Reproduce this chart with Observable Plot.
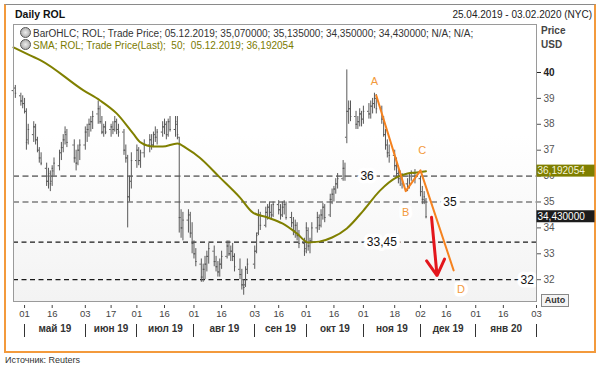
<!DOCTYPE html>
<html><head><meta charset="utf-8">
<script src="https://cdn.jsdelivr.net/npm/d3@7"></script>
<script src="https://cdn.jsdelivr.net/npm/@observablehq/plot@0.6"></script>
<style>
body{margin:0;background:#fff;font-family:"Liberation Sans",Arial,sans-serif;}
#wrap{position:relative;width:600px;height:370px;overflow:hidden;}
.abs{position:absolute;white-space:pre;}
#frame{left:4px;top:4px;width:592px;height:349px;box-sizing:border-box;border:2px solid #f39a3c;border-top:1px solid #8a8a8a;}
#plotbg{left:13px;top:24px;width:523px;height:277px;background:linear-gradient(#ffffff 0%,#ffffff 40%,#f3f3f3 100%);}
#chart{left:0;top:0;}
.leg{font-size:10px;line-height:12px;}
.ico{display:inline-block;width:9px;height:9px;border-radius:50%;border:1px solid #555;background:radial-gradient(#eee,#999);vertical-align:-1px;margin-right:2px;}
</style></head>
<body><div id="wrap">
<div class="abs" id="frame"></div>
<div class="abs" id="plotbg"></div>
<div class="abs" style="left:15px;top:8px;font-size:10.5px;font-weight:bold;color:#111;">Daily ROL</div>
<div class="abs" style="right:8px;top:9px;font-size:10px;color:#222;">25.04.2019 - 03.02.2020 (NYC)</div>
<div class="abs" id="chart"></div>
<div class="abs leg" style="left:20px;top:27px;color:#333;"><span class="ico"></span>BarOHLC; ROL; Trade Price; 05.12.2019; 35,070000; 35,135000; 34,350000; 34,430000; N/A; N/A;</div>
<div class="abs leg" style="left:20px;top:39px;color:#7a7a00;"><span class="ico"></span>SMA; ROL; Trade Price(Last);  50;  05.12.2019; 36,192054</div>
<div class="abs" style="left:541px;top:25px;font-size:10px;font-weight:bold;color:#444;">Price</div>
<div class="abs" style="left:541px;top:39px;font-size:10px;font-weight:bold;color:#444;">USD</div>
<div class="abs" style="left:541px;top:294px;width:26px;height:11px;border:1px solid #888;background:#f4f4f4;font-size:9px;line-height:11px;font-weight:bold;color:#333;text-align:center;">Auto</div>
<div class="abs" style="left:5px;top:355px;font-size:9px;color:#333;">Источник: Reuters</div>
</div>
<script>
// ---- data ----
const dates = ["2019-04-25","2019-04-26","2019-04-29","2019-04-30","2019-05-01","2019-05-02","2019-05-03","2019-05-06","2019-05-07","2019-05-08","2019-05-09","2019-05-10","2019-05-13","2019-05-14","2019-05-15","2019-05-16","2019-05-17","2019-05-20","2019-05-21","2019-05-22","2019-05-23","2019-05-24","2019-05-28","2019-05-29","2019-05-30","2019-05-31","2019-06-03","2019-06-04","2019-06-05","2019-06-06","2019-06-07","2019-06-10","2019-06-11","2019-06-12","2019-06-13","2019-06-14","2019-06-17","2019-06-18","2019-06-19","2019-06-20","2019-06-21","2019-06-24","2019-06-25","2019-06-26","2019-06-27","2019-06-28","2019-07-01","2019-07-02","2019-07-03","2019-07-05","2019-07-08","2019-07-09","2019-07-10","2019-07-11","2019-07-12","2019-07-15","2019-07-16","2019-07-17","2019-07-18","2019-07-19","2019-07-22","2019-07-23","2019-07-24","2019-07-25","2019-07-26","2019-07-29","2019-07-30","2019-07-31","2019-08-01","2019-08-02","2019-08-05","2019-08-06","2019-08-07","2019-08-08","2019-08-09","2019-08-12","2019-08-13","2019-08-14","2019-08-15","2019-08-16","2019-08-19","2019-08-20","2019-08-21","2019-08-22","2019-08-23","2019-08-26","2019-08-27","2019-08-28","2019-08-29","2019-08-30","2019-09-03","2019-09-04","2019-09-05","2019-09-06","2019-09-09","2019-09-10","2019-09-11","2019-09-12","2019-09-13","2019-09-16","2019-09-17","2019-09-18","2019-09-19","2019-09-20","2019-09-23","2019-09-24","2019-09-25","2019-09-26","2019-09-27","2019-09-30","2019-10-01","2019-10-02","2019-10-03","2019-10-04","2019-10-07","2019-10-08","2019-10-09","2019-10-10","2019-10-11","2019-10-14","2019-10-15","2019-10-16","2019-10-17","2019-10-18","2019-10-21","2019-10-22","2019-10-23","2019-10-24","2019-10-25","2019-10-28","2019-10-29","2019-10-30","2019-10-31","2019-11-01","2019-11-04","2019-11-05","2019-11-06","2019-11-07","2019-11-08","2019-11-11","2019-11-12","2019-11-13","2019-11-14","2019-11-15","2019-11-18","2019-11-19","2019-11-20","2019-11-21","2019-11-22","2019-11-25","2019-11-26","2019-11-27","2019-11-29","2019-12-02","2019-12-03","2019-12-04","2019-12-05"];
const open  = [39.3,39.4,39.1,38.9,38.8,38.5,37.4,37.6,37.9,37.4,37.0,36.7,36.3,35.8,36.0,35.8,36.2,36.4,36.9,37.1,37.4,37.6,37.2,36.7,36.5,37.0,37.2,37.7,37.8,38.0,38.1,38.4,38.6,38.1,37.7,37.9,37.8,37.9,37.8,38.1,37.8,37.7,37.0,36.7,35.2,35.8,36.6,37.0,36.6,36.9,37.2,37.4,37.2,37.6,37.5,37.7,37.9,38.0,37.6,38.1,37.8,38.0,37.5,34.4,34.0,34.3,34.5,33.8,33.4,33.0,32.6,32.1,32.4,32.6,32.9,33.1,32.7,32.5,32.3,32.6,32.9,33.3,33.0,33.1,32.9,32.4,32.2,31.8,31.8,32.4,32.6,33.1,33.8,34.5,34.1,34.6,34.8,34.6,34.5,34.9,34.7,34.5,34.8,34.9,34.4,34.2,33.9,34.1,33.7,33.4,33.2,33.9,33.3,33.5,34.0,34.4,34.1,34.5,34.8,34.5,35.1,35.3,35.5,35.7,35.9,36.3,37.5,38.5,38.6,38.3,38.0,38.1,38.4,38.2,38.5,38.4,38.7,38.8,39.0,38.6,38.2,37.6,37.2,36.9,36.8,36.4,36.1,35.9,36.0,35.7,35.6,36.0,36.1,35.9,35.4,35.1,35.07];
const high  = [39.6,39.5,39.2,39.1,39.0,38.6,38.0,38.1,38.0,37.5,37.1,36.9,36.5,36.3,36.2,36.4,36.7,37.0,37.3,37.6,37.9,37.8,37.4,37.0,37.2,37.4,37.9,38.0,38.2,38.3,38.5,38.9,38.7,38.3,38.0,38.1,38.0,38.1,38.3,38.2,38.0,37.8,37.2,36.8,36.0,36.9,37.2,37.1,37.0,37.4,37.6,37.6,37.7,37.9,37.8,38.1,38.2,38.1,38.2,38.3,38.3,38.3,37.5,34.7,34.6,34.7,34.6,34.2,33.5,33.2,32.8,32.6,32.9,33.1,33.4,33.3,32.9,32.7,32.8,33.1,33.5,33.5,33.3,33.4,33.0,32.8,32.4,32.0,32.5,32.8,33.3,33.8,34.7,34.6,34.8,34.9,35.0,34.9,35.0,35.05,34.9,35.0,35.05,35.0,34.6,34.4,34.3,34.2,33.9,33.6,34.2,34.0,33.6,34.2,34.6,34.5,34.7,34.95,34.9,35.3,35.5,35.6,35.9,36.1,36.6,36.5,40.1,38.9,38.9,38.5,38.3,38.6,38.5,38.7,38.8,38.9,39.0,39.2,39.15,38.7,38.3,37.8,37.4,37.2,37.0,36.7,36.4,36.2,36.1,35.9,36.1,36.2,36.25,36.0,35.6,35.4,35.135];
const low   = [39.0,39.0,38.7,38.6,38.4,37.0,37.2,37.3,37.2,36.9,36.5,36.4,35.6,35.5,35.4,35.6,36.0,36.2,36.6,36.9,37.2,37.1,36.5,36.2,36.4,36.6,37.0,37.3,37.5,37.7,37.8,38.0,38.0,37.6,37.5,37.6,37.5,37.6,37.7,37.6,37.5,36.8,36.5,34.0,35.0,35.5,36.3,36.4,36.3,36.7,36.9,37.0,37.1,37.3,37.2,37.5,37.6,37.4,37.5,37.7,37.5,37.4,33.8,33.6,33.5,33.8,33.6,33.0,32.8,32.5,31.9,31.9,32.0,32.3,32.6,32.5,32.3,32.1,32.1,32.4,32.8,32.9,32.7,32.7,32.3,32.0,31.6,31.4,31.7,32.2,32.4,33.0,33.7,33.9,34.0,34.3,34.4,34.3,34.4,34.5,34.3,34.4,34.5,34.3,34.0,33.7,33.6,33.5,33.2,32.9,33.0,33.1,33.0,33.4,33.8,33.9,34.0,34.3,34.2,34.4,34.9,35.0,35.3,35.5,35.8,35.8,37.25,38.0,38.1,37.8,37.8,37.9,37.9,38.0,38.2,38.2,38.4,38.6,38.4,38.0,37.5,37.0,36.7,36.5,36.2,35.9,35.7,35.6,35.5,35.4,35.5,35.8,35.7,35.2,34.9,34.9,34.35];
const close = [39.4,39.2,38.9,38.8,38.5,37.3,37.8,37.9,37.4,37.0,36.7,36.5,35.8,36.1,35.7,36.3,36.5,36.9,37.1,37.4,37.7,37.3,36.7,36.5,37.0,37.2,37.7,37.8,38.0,38.1,38.3,38.6,38.1,37.7,37.9,37.7,37.9,37.8,38.1,37.8,37.7,37.0,36.7,35.2,35.8,36.6,37.0,36.6,36.9,37.2,37.4,37.2,37.6,37.5,37.7,37.9,38.0,37.6,38.1,37.8,38.1,37.6,34.4,34.0,34.3,34.5,33.8,33.4,33.0,32.7,32.1,32.4,32.6,32.9,33.2,32.7,32.5,32.3,32.6,32.9,33.3,33.0,33.1,32.9,32.5,32.2,31.8,31.7,32.4,32.6,33.1,33.7,34.5,34.1,34.6,34.8,34.6,34.5,34.9,34.7,34.5,34.8,34.9,34.4,34.2,33.9,34.1,33.7,33.4,33.1,34.0,33.3,33.5,34.0,34.4,34.1,34.5,34.8,34.4,35.1,35.3,35.5,35.7,35.9,36.3,36.0,38.5,38.6,38.3,38.0,38.1,38.4,38.2,38.5,38.4,38.7,38.8,39.0,38.6,38.2,37.6,37.2,36.9,36.8,36.4,36.1,35.9,36.0,35.7,35.6,36.0,36.1,35.9,35.4,35.1,35.2,34.43];

const smaDates  = ["2019-04-25","2019-05-04","2019-05-10","2019-06-02","2019-06-11","2019-06-20","2019-06-29","2019-07-03","2019-07-10","2019-07-15","2019-07-23","2019-07-28","2019-08-04","2019-08-15","2019-08-26","2019-09-02","2019-09-10","2019-09-18","2019-09-26","2019-10-02","2019-10-08","2019-10-15","2019-10-23","2019-11-01","2019-11-10","2019-11-19","2019-11-25","2019-11-30","2019-12-05"];
const smaValues = [40.97,40.66,40.46,39.31,38.92,38.42,37.64,37.30,37.14,37.14,37.26,37.07,36.72,35.95,35.17,34.59,34.40,34.17,33.78,33.44,33.47,33.63,33.98,34.67,35.44,35.95,36.10,36.14,36.19];

const levelValues = [36, 35, 33.45, 32];
const levelLabels = ["36", "35", "33,45", "32"];
const levelLabelDates = ["2019-11-03", "2019-12-18", "2019-11-11", "2020-01-29"];

const waveDates  = ["2019-11-08", "2019-11-24", "2019-12-02", "2019-12-20"];
const waveValues = [39.11, 35.42, 36.22, 32.36];
const waveLetters = ["A", "B", "C", "D"];
const letterDates  = ["2019-11-07", "2019-11-24", "2019-12-03", "2019-12-24"];
const letterValues = [39.65, 34.6, 36.99, 31.62];

const arrowDates  = ["2019-12-08", "2019-12-11"];
const arrowValues = [34.41, 32.16];

const tickDates  = ["2019-05-01","2019-05-16","2019-06-03","2019-06-17","2019-07-01","2019-07-16","2019-08-01","2019-08-16","2019-09-03","2019-09-16","2019-10-01","2019-10-16","2019-11-01","2019-11-18","2019-12-02","2019-12-16","2020-01-01","2020-01-16","2020-02-03"];
const tickLabels = ["01","16","03","17","01","16","01","16","03","16","01","16","01","18","02","16","01","16","03"];
const monthSeps   = ["2019-05-01","2019-06-03","2019-07-01","2019-08-01","2019-09-03","2019-10-01","2019-11-01","2019-12-02","2020-01-01","2020-02-03"];
const monthLabels = ["май 19","июн 19","июл 19","авг 19","сен 19","окт 19","ноя 19","дек 19","янв 20"];
const yTicks = [32, 33, 34, 35, 36, 37, 38, 39];
const yTickBold = [40];

const smaLast = 36.192054;
const closeLast = 34.43;

// ---- build ----
const D = s => new Date(s + "T00:00:00Z");
const DAY = 864e5;
const bars = dates.map((d, i) => ({date: D(d), o: open[i], h: high[i], l: low[i], c: close[i]}));
const sma = smaDates.map((d, i) => ({date: D(d), v: smaValues[i]}));
const levels = levelValues.map((v, i) => ({v, label: levelLabels[i], date: D(levelLabelDates[i]), gray: i < 2}));
const wave = waveDates.map((d, i) => ({date: D(d), v: waveValues[i]}));
const letters = waveLetters.map((t, i) => ({t, date: D(letterDates[i]), v: letterValues[i]}));
const arrow = [{x1: D(arrowDates[0]), y1: arrowValues[0], x2: D(arrowDates[1]), y2: arrowValues[1]}];
const tickMap = new Map(tickDates.map((d, i) => [+D(d), tickLabels[i]]));
const months = monthLabels.map((t, i) => ({t, date: new Date((+D(monthSeps[i]) + +D(monthSeps[i + 1])) / 2)}));

const chart = Plot.plot({
  width: 600, height: 340,
  marginLeft: 13, marginRight: 64, marginTop: 24, marginBottom: 39,
  style: {fontFamily: '"Liberation Sans", Arial, sans-serif', background: "transparent", overflow: "visible"},
  x: {type: "utc", domain: [D("2019-04-25"), D("2020-02-03")], axis: null},
  y: {domain: [31.158, 41.853], axis: null},
  marks: [
    Plot.ruleY(levels.filter(d => d.gray), {y: "v", stroke: "#7d7d7d", strokeWidth: 1.6, strokeDasharray: "6,3.5"}),
    Plot.ruleY(levels.filter(d => !d.gray), {y: "v", stroke: "#1a1a1a", strokeWidth: 1.2, strokeDasharray: "5,3.5"}),
    Plot.ruleX(bars, {x: "date", y1: "l", y2: "h", stroke: "#595959", strokeWidth: 1}),
    Plot.ruleY(bars, {y: "o", x1: d => new Date(+d.date - 0.75 * DAY), x2: "date", stroke: "#595959", strokeWidth: 1}),
    Plot.ruleY(bars, {y: "c", x1: "date", x2: d => new Date(+d.date + 0.75 * DAY), stroke: "#595959", strokeWidth: 1}),
    Plot.line(sma, {x: "date", y: "v", stroke: "#808000", strokeWidth: 2, curve: "monotone-x"}),
    Plot.line(wave, {x: "date", y: "v", stroke: "#f5821f", strokeWidth: 2}),
    Plot.arrow(arrow, {x1: "x1", y1: "y1", x2: "x2", y2: "y2", stroke: "#e3161c", strokeWidth: 3, headLength: 9}),
    Plot.text(levels, {x: "date", y: "v", text: "label", fontSize: 12, fill: "#111", stroke: "white", strokeWidth: 7}),
    Plot.text(letters, {x: "date", y: "v", text: "t", fontSize: 11, fill: "#f39a3c", stroke: "white", strokeWidth: 7}),
    Plot.frame({stroke: "#9a9a9a"}),
    Plot.axisY(yTicks, {anchor: "right", tickSize: 4, tickPadding: 3, fontSize: 10, color: "#555", label: null}),
    Plot.axisY(yTickBold, {anchor: "right", tickSize: 4, tickPadding: 3, fontSize: 10, fontWeight: "bold", color: "#222", label: null}),
    Plot.axisX(tickDates.map(D), {tickFormat: d => tickMap.get(+d), tickSize: 3, dy: 4, tickPadding: 2, fontSize: 9.5, color: "#444", label: null}),
    Plot.text(months, {x: "date", text: "t", frameAnchor: "bottom", dy: 30, fontSize: 10, fontWeight: "bold", fill: "#333"})
  ]
});
document.getElementById("chart").appendChild(chart);

const xs = chart.scale("x"), ys = chart.scale("y");
const svg = d3.select(chart);
svg.append("g").selectAll("line").data(monthSeps.map(D)).join("line")
  .attr("x1", d => Math.round(xs.apply(d)) + 0.5).attr("x2", d => Math.round(xs.apply(d)) + 0.5)
  .attr("y1", 324).attr("y2", 337).attr("stroke", "#333");
const tags = [
  {v: smaLast, text: "36,192054", bg: "#7f7f00", fg: "#f4f4d8"},
  {v: closeLast, text: "34,430000", bg: "#1c1c1c", fg: "#ffffff"}
];
const g = svg.append("g").attr("text-anchor", "start");
tags.forEach(t => {
  const yy = ys.apply(t.v);
  g.append("rect").attr("x", 536.5).attr("y", yy - 6).attr("width", 58).attr("height", 12).attr("fill", t.bg);
  g.append("text").attr("x", 537.5).attr("y", yy).attr("dy", "0.35em").attr("text-anchor", "start")
    .attr("font-size", 10).attr("fill", t.fg).text(t.text);
});
</script>
</body></html>
